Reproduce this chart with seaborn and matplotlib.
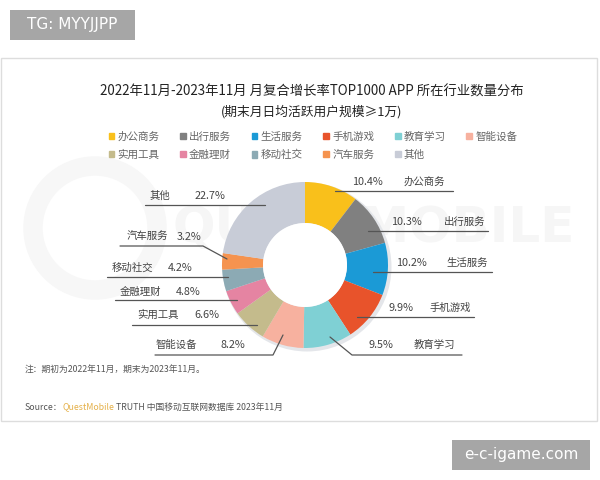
import matplotlib.pyplot as plt
import matplotlib.patches as mpatches
import seaborn as sns

# data
categories = ["办公商务", "出行服务", "生活服务", "手机游戏", "教育学习", "智能设备",
              "实用工具", "金融理财", "移动社交", "汽车服务", "其他"]
shares = [10.4, 10.3, 10.2, 9.9, 9.5, 8.2, 6.6, 4.8, 4.2, 3.2, 22.7]
colors = ["#F9C01B", "#808080", "#1B9AD6", "#E8532B", "#7FD0D4", "#F7B19F",
          "#C4BB8C", "#E584A2", "#8CAAB4", "#F5934F", "#C8CCD7"]

title = "2022年11月-2023年11月 月复合增长率TOP1000 APP 所在行业数量分布"
subtitle = "(期末月日均活跃用户规模≥1万)"
note = "注：期初为2022年11月，期末为2023年11月。"

sns.set_theme(style="white")
plt.rcParams["font.family"] = ["Noto Sans CJK SC", "DejaVu Sans"]

W, H = 600, 480
fig = plt.figure(figsize=(6, 4.8), dpi=100)
ax = fig.add_axes([0, 0, 1, 1])


def Y(y):
    return H - y


# card
ax.add_patch(mpatches.Rectangle((1, Y(421)), 596, 363, facecolor="white",
                                edgecolor="#DDDDDD", lw=1, zorder=0))

# faint background logo
ax.add_patch(mpatches.Circle((95, Y(228)), 62, fill=False, lw=14,
                             edgecolor="#F7F7F7", zorder=0.5))
ax.text(575, Y(228), "QUESTMOBILE", fontsize=36, fontweight="bold",
        color="#F6F6F6", ha="right", va="center", family="DejaVu Sans", zorder=0.5)

# donut
cx, cy, r = 305, Y(265), 83
ax.add_patch(mpatches.Circle((cx + 2, cy - 2), r + 1.5, facecolor="#E4E6EA",
                             edgecolor="none", zorder=1.5))
wedges, _ = ax.pie(shares, colors=colors, startangle=90, counterclock=False,
                   center=(cx, cy), radius=r, frame=True,
                   wedgeprops=dict(width=41, edgecolor="none"))
for w in wedges:
    w.set_zorder(2)
ax.add_patch(mpatches.Circle((cx, cy), r - 41, facecolor="white",
                             edgecolor="none", zorder=2.1))

ax.set_xlim(0, W)
ax.set_ylim(0, H)
ax.set_aspect("auto")
ax.axis("off")

# label layout: (pct x, name x, text y, line points)
right_labels = [
    (367, 424, 182, [(453, 191), (335, 191)]),
    (406, 465, 222, [(488, 231), (368, 231)]),
    (411, 467, 263, [(492, 272), (373, 272)]),
    (401, 450, 308, [(474, 317), (357, 317)]),
    (381, 434, 345, [(462, 355), (352, 355), (330, 337)]),
]
left_labels = [
    (233, 176, 345, [(155, 355), (273, 355), (283, 335)]),
    (207, 158, 315, [(132, 325), (257, 325)]),
    (188, 140, 292, [(115, 300), (237, 300)]),
    (180, 132, 268, [(107, 277), (228, 277)]),
    (189, 147, 237, [(120, 246), (203, 246), (227, 259)]),
    (210, 160, 196, [(145, 205), (265, 205)]),
]
layout = right_labels + left_labels
for (px, nx, ty, pts), name, val in zip(layout, categories, shares):
    ax.text(px, Y(ty), f"{val:.1f}%", fontsize=7.8, color="#444444",
            ha="center", va="center", zorder=4)
    ax.text(nx, Y(ty), name, fontsize=7.5, color="#444444",
            ha="center", va="center", zorder=4)
    ax.plot([p[0] for p in pts], [Y(p[1]) for p in pts], color="#555555",
            lw=0.9, zorder=3)

# titles
ax.text(312, Y(92), title, fontsize=9.6, color="#222222", ha="center", va="center")
ax.text(312, Y(112), subtitle, fontsize=9.2, color="#222222", ha="center", va="center")

# legend
order = [0, 6, 1, 7, 2, 8, 3, 9, 4, 10, 5]
handles = [mpatches.Patch(color=colors[i]) for i in order]
labels = [categories[i] for i in order]
ax.legend(handles, labels, ncol=6, frameon=False, fontsize=7.6,
          handlelength=0.55, handleheight=0.55, handletextpad=0.3,
          columnspacing=1.95, labelspacing=0.75, labelcolor="#666666",
          loc="upper left", bbox_to_anchor=(99 / W, 1 - 122 / H))

# note and source
ax.text(25, Y(370), note, fontsize=6.3, color="#555555", va="center")
t = ax.text(25, Y(407), "Source：", fontsize=6.3, color="#555555", va="center")
t = ax.annotate("QuestMobile", xycoords=t, xy=(1, 0.5), va="center",
                fontsize=6.3, color="#E5B14A")
ax.annotate(" TRUTH 中国移动互联网数据库 2023年11月", xycoords=t, xy=(1, 0.5),
            va="center", fontsize=6.3, color="#555555")

# watermark boxes
ax.add_patch(mpatches.Rectangle((10, Y(40)), 125, 30, facecolor="#A6A6A6",
                                edgecolor="none", zorder=5))
ax.text(72, Y(25), "TG: MYYJJPP", fontsize=11, color="white", ha="center",
        va="center", family="DejaVu Sans", zorder=6)
ax.add_patch(mpatches.Rectangle((452, Y(470)), 138, 30, facecolor="#A6A6A6",
                                edgecolor="none", zorder=5))
ax.text(521, Y(455), "e-c-igame.com", fontsize=11, color="white", ha="center",
        va="center", family="DejaVu Sans", zorder=6)

fig.savefig("out.png", dpi=100)
